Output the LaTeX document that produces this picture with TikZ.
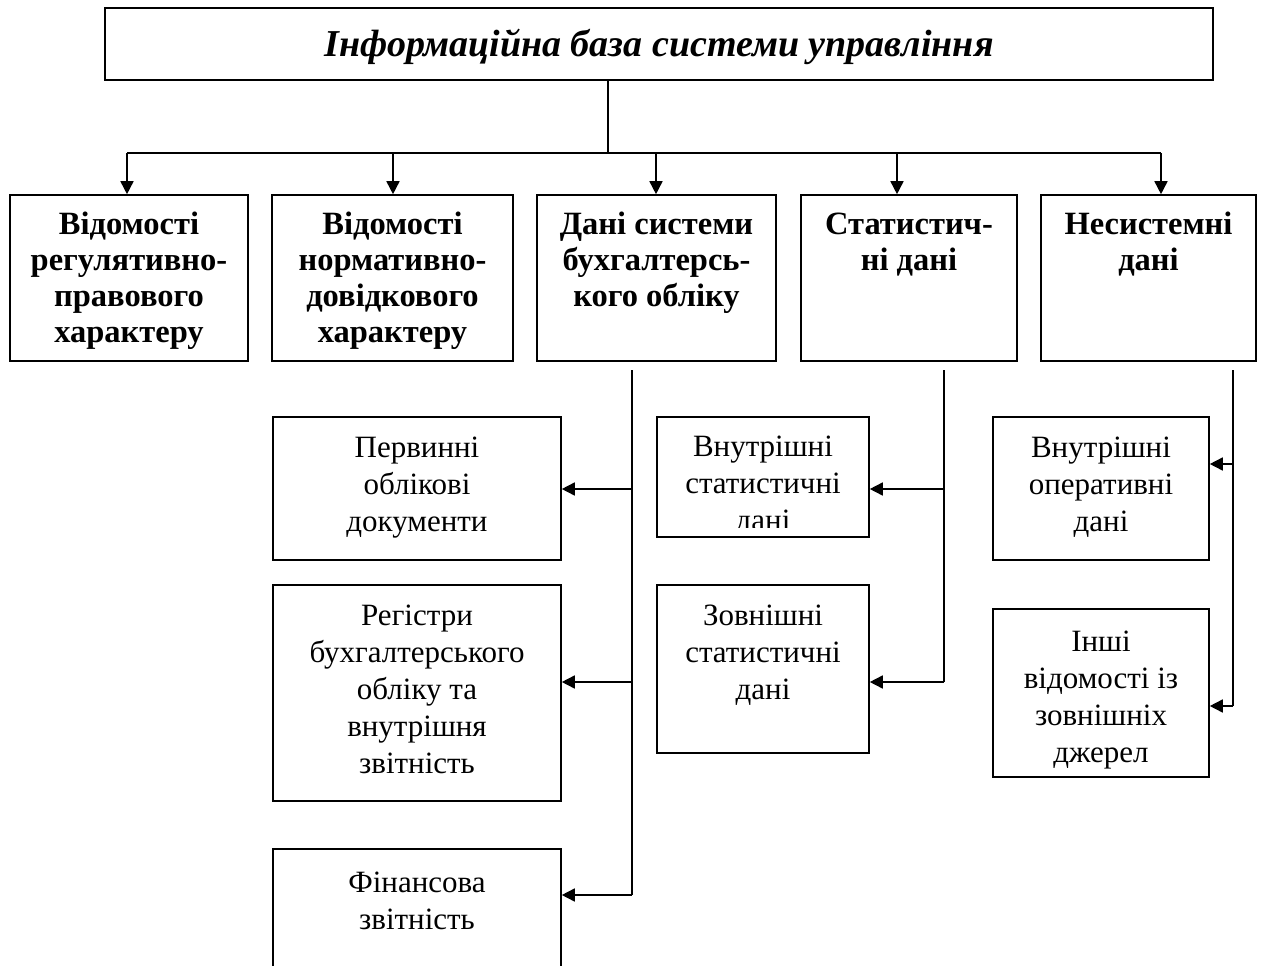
\documentclass[tikz,border=0pt]{standalone}
\usepackage{fontspec}
\setmainfont{Liberation Serif}
\usetikzlibrary{arrows.meta}
\tikzset{
  box/.style={draw, line width=1.6pt, inner sep=0pt},
  conn/.style={line width=1.6pt},
  arr/.style={line width=1.6pt, -{Triangle[length=13pt,width=13pt]}},
  toptxt/.style={align=center, inner sep=0pt, anchor=base, font=\fontsize{32.5}{36}\selectfont\bfseries},
  lowtxt/.style={align=center, inner sep=0pt, anchor=base, font=\fontsize{31}{37}\selectfont},
}
\begin{document}
\begin{tikzpicture}[x=1pt, y=-1pt]
\clip (0,0) rectangle (1262,966);
\fill[white] (0,0) rectangle (1262,966);
% title
\node[box, minimum width=1108pt, minimum height=72pt] (t) at (659,44) {};
\node[inner sep=0pt, anchor=base, font=\fontsize{38}{40}\selectfont\bfseries\itshape] (tt) at (659,57) {Інформаційна база системи управління};
% second row boxes
\node[box, minimum width=238pt, minimum height=166pt] (b1) at (129,278) {};
\node[box, minimum width=241pt, minimum height=166pt] (b2) at (392.5,278) {};
\node[box, minimum width=239pt, minimum height=166pt] (b3) at (656.5,278) {};
\node[box, minimum width=216pt, minimum height=166pt] (b4) at (909,278) {};
\node[box, minimum width=215pt, minimum height=166pt] (b5) at (1148.5,278) {};
\node[toptxt] (b1t) at (129,342) {Відомості\\регулятивно-\\правового\\характеру};
\node[toptxt] (b2t) at (392.5,342) {Відомості\\нормативно-\\довідкового\\характеру};
\node[toptxt] (b3t) at (656.5,306) {Дані системи\\бухгалтерсь-\\кого обліку};
\node[toptxt] (b4t) at (909,270) {Статистич-\\ні дані};
\node[toptxt] (b5t) at (1148.5,270) {Несистемні\\дані};
% tree connectors
\coordinate (j) at (608,153);
\coordinate (a1) at (127,153);
\coordinate (a2) at (393,153);
\coordinate (a3) at (656,153);
\coordinate (a4) at (897,153);
\coordinate (a5) at (1161,153);
\draw[conn] (t.south -| j) -- (j);
\draw[conn] (a1) -- (a5);
\draw[arr] (a1) -- (a1 |- b1.north);
\draw[arr] (a2) -- (a2 |- b2.north);
\draw[arr] (a3) -- (a3 |- b3.north);
\draw[arr] (a4) -- (a4 |- b4.north);
\draw[arr] (a5) -- (a5 |- b5.north);
% lower boxes
\node[box, minimum width=288pt, minimum height=143pt] (p1) at (417,488.5) {};
\node[box, minimum width=288pt, minimum height=216pt] (p2) at (417,693) {};
\node[box, minimum width=288pt, minimum height=160pt] (p3) at (417,929) {};
\node[box, minimum width=212pt, minimum height=120pt] (m1) at (763,477) {};
\node[box, minimum width=212pt, minimum height=168pt] (m2) at (763,669) {};
\node[box, minimum width=216pt, minimum height=143pt] (r1) at (1101,488.5) {};
\node[box, minimum width=216pt, minimum height=168pt] (r2) at (1101,693) {};
\node[lowtxt] (p1t) at (417,531) {Первинні\\облікові\\документи};
\node[lowtxt] (p2t) at (417,773) {Регістри\\бухгалтерського\\обліку та\\внутрішня\\звітність};
\node[lowtxt] (p3t) at (417,929) {Фінансова\\звітність};
\begin{scope}
\clip (657,417) rectangle (869,527);
\node[lowtxt] (m1t) at (763,530) {Внутрішні\\статистичні\\дані};
\end{scope}
\node[lowtxt] (m2t) at (763,699) {Зовнішні\\статистичні\\дані};
\node[lowtxt] (r1t) at (1101,531) {Внутрішні\\оперативні\\дані};
\node[lowtxt] (r2t) at (1101,762) {Інші\\відомості із\\зовнішніх\\джерел};
% lower connectors
\coordinate (s3) at (632,370);
\coordinate (s4) at (944,370);
\coordinate (s5) at (1233,370);
\coordinate (e1) at (632,489);
\coordinate (e2) at (632,682);
\coordinate (e3) at (632,895);
\coordinate (f1) at (944,489);
\coordinate (f2) at (944,682);
\coordinate (g1) at (1233,464);
\coordinate (g2) at (1233,706);
\draw[conn] (s3) -- (e3);
\draw[conn] (s4) -- (f2);
\draw[conn] (s5) -- (g2);
\draw[arr] (e1) -- (e1 -| p1.east);
\draw[arr] (e2) -- (e2 -| p2.east);
\draw[arr] (e3) -- (e3 -| p3.east);
\draw[arr] (f1) -- (f1 -| m1.east);
\draw[arr] (f2) -- (f2 -| m2.east);
\draw[arr] (g1) -- (g1 -| r1.east);
\draw[arr] (g2) -- (g2 -| r2.east);
\end{tikzpicture}
\end{document}
